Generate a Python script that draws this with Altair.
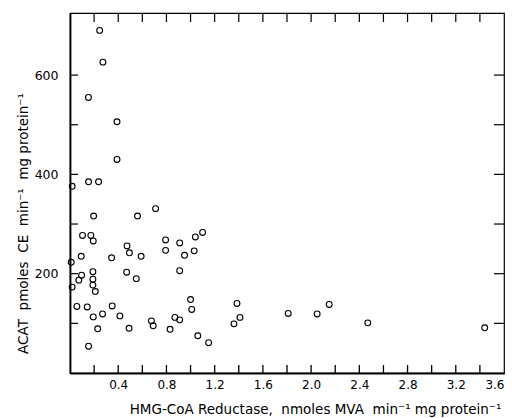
import altair as alt
import pandas as pd

# HMG-CoA reductase activity (nmoles MVA/min/mg protein)
hmg = [0.018, 0.154, 0.237, 0.39, 0.196, 0.56, 0.71, 0.104, 0.173, 0.193,
       0.473, 0.493, 0.793, 0.793, 0.91, 1.04, 1.10, 0.95, 1.03, 0.093,
       0.345, 0.59, 0.01, 0.19, 0.096, 0.073, 0.018, 0.19, 0.19, 0.21,
       0.47, 0.55, 0.91, 1.0, 1.01, 0.057, 0.143, 0.35, 0.193, 0.27,
       0.414, 0.675, 0.69, 0.87, 0.91, 0.23, 0.49, 0.83, 1.06, 1.15,
       0.154, 0.246, 0.273, 0.153, 0.39, 1.385, 1.41, 1.36, 1.81, 2.05,
       2.15, 2.47, 3.44]
# ACAT activity (pmoles CE/min/mg protein)
acat = [376, 385, 385, 430, 316, 316, 331, 277, 277, 266,
        256, 242, 268, 247, 262, 274, 283, 237, 246, 235,
        232, 235, 223, 204, 197, 187, 173, 189, 177, 164,
        203, 190, 206, 148, 128, 134, 133, 135, 113, 119,
        115, 105, 95, 112, 107, 89, 90, 88, 75, 61,
        54, 690, 626, 555, 506, 140, 112, 99, 120, 119,
        138, 101, 91]

x_labels = [0.4, 0.8, 1.2, 1.6, 2.0, 2.4, 2.8, 3.2, 3.6]
y_labels = [200, 400, 600]
x_ticks = [0.2, 0.4, 0.6, 0.8, 1.0, 1.2, 1.4, 1.6, 1.8, 2.0, 2.2, 2.4,
           2.6, 2.8, 3.0, 3.2, 3.4]
y_ticks = [100, 200, 300, 400, 500, 600]

W, H = 434, 360
FONT = "DejaVu Sans"
SP = "\u00a0"
x_title = ("HMG-CoA Reductase," + SP * 2 + "nmoles MVA" + SP * 2 +
           "min\u207b\u00b9 mg protein\u207b\u00b9")
y_title = ("ACAT" + SP * 2 + "pmoles" + SP * 2 + "CE" + SP * 2 +
           "min\u207b\u00b9" + SP * 2 + "mg protein\u207b\u00b9")

df = pd.DataFrame({"hmg": hmg, "acat": acat})
xt = pd.DataFrame({"t": x_ticks})
yt = pd.DataFrame({"t": y_ticks})

xscale = alt.Scale(domain=[0, 3.6], nice=False, zero=False)
yscale = alt.Scale(domain=[0, 725], nice=False, zero=False)

points = alt.Chart(df).mark_point(
    shape="circle", filled=False, size=34, color="black", strokeWidth=1.1, opacity=1
).encode(
    x=alt.X("hmg:Q", scale=xscale, axis=alt.Axis(
        values=x_labels, format=".1f", ticks=False, grid=False,
        domain=True, domainColor="black", domainWidth=1.8,
        labelPadding=6, labelFontSize=12, labelFont=FONT, labelColor="black",
        title=x_title,
        titleFont=FONT, titleFontSize=13.5, titleFontWeight="normal", titleColor="black",
        titleX=245, titleY=40, titleAlign="center", titleBaseline="alphabetic",
        labelOverlap=False)),
    y=alt.Y("acat:Q", scale=yscale, axis=alt.Axis(
        values=y_labels, ticks=False, grid=False,
        domain=True, domainColor="black", domainWidth=1.8,
        labelPadding=12, labelFontSize=12.5, labelFont=FONT, labelColor="black",
        title=y_title,
        titleFont=FONT, titleFontSize=13.5, titleFontWeight="normal", titleColor="black",
        titleX=-47, titleY=210, titleAlign="center", titleBaseline="middle",
        titleAngle=270)),
)

bottom_ticks = alt.Chart(xt).mark_rule(color="black", strokeWidth=1.3).encode(
    x=alt.X("t:Q", scale=xscale), y=alt.value(H), y2=alt.value(H - 8))
top_ticks = alt.Chart(xt).mark_rule(color="black", strokeWidth=1.2).encode(
    x=alt.X("t:Q", scale=xscale), y=alt.value(0), y2=alt.value(9))
left_ticks = alt.Chart(yt).mark_rule(color="black", strokeWidth=1.2).encode(
    y=alt.Y("t:Q", scale=yscale), x=alt.value(0), x2=alt.value(8))
right_ticks = alt.Chart(yt).mark_rule(color="black", strokeWidth=1.2).encode(
    y=alt.Y("t:Q", scale=yscale), x=alt.value(W), x2=alt.value(W - 10))

chart = alt.layer(points, bottom_ticks, top_ticks, left_ticks, right_ticks).properties(
    width=W, height=H,
    autosize=alt.AutoSizeParams(type="none"),
    padding={"left": 70, "top": 13, "right": 8, "bottom": 45},
    background="white",
).configure_view(stroke="black", strokeWidth=1.2)

chart.save("out.html", embed_options={"renderer": "svg", "actions": False})
